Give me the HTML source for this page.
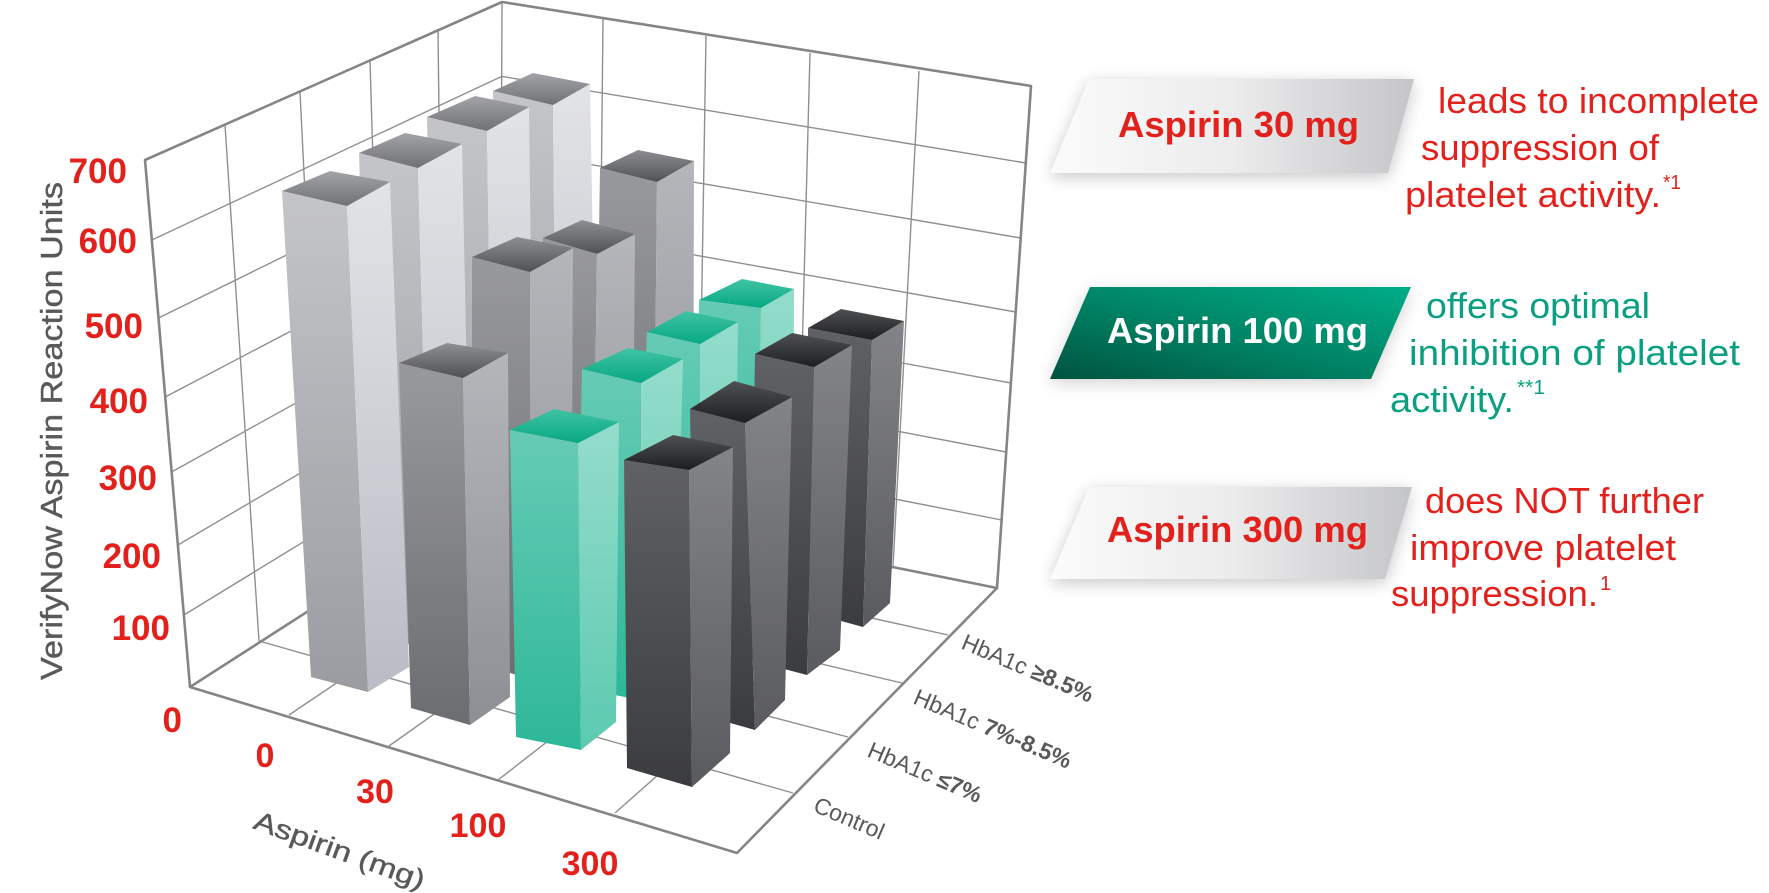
<!DOCTYPE html>
<html><head><meta charset="utf-8"><style>
html,body{margin:0;padding:0;background:#fff;}
svg{display:block;}
</style></head><body>
<svg width="1769" height="893" viewBox="0 0 1769 893" xmlns="http://www.w3.org/2000/svg" font-family="'Liberation Sans', sans-serif">
<defs>
<linearGradient id="lgF" x1="0" y1="0" x2="0" y2="1"><stop offset="0" stop-color="#c4c5c8"/><stop offset="1" stop-color="#9a9ca2"/></linearGradient>
<linearGradient id="lgS" x1="0" y1="0" x2="0" y2="1"><stop offset="0" stop-color="#e2e3e6"/><stop offset="1" stop-color="#b9bcc5"/></linearGradient>
<linearGradient id="lgT" x1="0" y1="0" x2="0" y2="1"><stop offset="0" stop-color="#a3a4a8"/><stop offset="1" stop-color="#707175"/></linearGradient>
<linearGradient id="gF" x1="0" y1="0" x2="0" y2="1"><stop offset="0" stop-color="#98999d"/><stop offset="1" stop-color="#6c6d71"/></linearGradient>
<linearGradient id="gS" x1="0" y1="0" x2="0" y2="1"><stop offset="0" stop-color="#b5b6ba"/><stop offset="1" stop-color="#8d8f95"/></linearGradient>
<linearGradient id="gT" x1="0" y1="0" x2="0" y2="1"><stop offset="0" stop-color="#8e8f92"/><stop offset="1" stop-color="#505154"/></linearGradient>
<linearGradient id="tF" x1="0" y1="0" x2="0" y2="1"><stop offset="0" stop-color="#66cbb5"/><stop offset="1" stop-color="#2eb898"/></linearGradient>
<linearGradient id="tS" x1="0" y1="0" x2="0" y2="1"><stop offset="0" stop-color="#94dccb"/><stop offset="1" stop-color="#5ccab0"/></linearGradient>
<linearGradient id="tT" x1="0" y1="0" x2="0" y2="1"><stop offset="0" stop-color="#40c3a5"/><stop offset="1" stop-color="#08a882"/></linearGradient>
<linearGradient id="dF" x1="0" y1="0" x2="0" y2="1"><stop offset="0" stop-color="#606164"/><stop offset="1" stop-color="#3b3c3f"/></linearGradient>
<linearGradient id="dS" x1="0" y1="0" x2="0" y2="1"><stop offset="0" stop-color="#838487"/><stop offset="1" stop-color="#5a5b5e"/></linearGradient>
<linearGradient id="dT" x1="0" y1="0" x2="0" y2="1"><stop offset="0" stop-color="#505153"/><stop offset="1" stop-color="#1d1e1f"/></linearGradient>
<linearGradient id="boxG" x1="0" y1="0" x2="1" y2="0"><stop offset="0" stop-color="#fbfbfb"/><stop offset="0.5" stop-color="#ececed"/><stop offset="1" stop-color="#c4c5c8"/></linearGradient>
<linearGradient id="boxT" x1="0" y1="1" x2="1" y2="0"><stop offset="0" stop-color="#00533f"/><stop offset="0.55" stop-color="#008a6a"/><stop offset="1" stop-color="#00ad88"/></linearGradient>
<filter id="sh" x="-20%" y="-40%" width="140%" height="180%"><feGaussianBlur stdDeviation="8"/></filter>
</defs>

<g stroke="#8f8f8f" stroke-width="1.4" fill="none">
 <line x1="151.8" y1="240" x2="501.8" y2="76.4"/>
 <line x1="158.5" y1="318" x2="501.5" y2="149.3"/>
 <line x1="165.2" y1="397" x2="501.2" y2="220.7"/>
 <line x1="171.6" y1="472" x2="500.9" y2="289.2"/>
 <line x1="177.9" y1="545" x2="500.6" y2="355.3"/>
 <line x1="183.9" y1="615" x2="500.3" y2="421.4"/>
 <line x1="225" y1="125" x2="259" y2="641"/>
 <line x1="300" y1="92" x2="325" y2="600"/>
 <line x1="370" y1="61" x2="385" y2="561"/>
 <line x1="438" y1="31" x2="444" y2="523"/>
 <line x1="502" y1="2" x2="500" y2="488"/>
 <line x1="501.8" y1="76.4" x2="1025.8" y2="163"/>
 <line x1="501.5" y1="149.3" x2="1020.7" y2="238"/>
 <line x1="501.2" y1="220.7" x2="1015.7" y2="312"/>
 <line x1="500.9" y1="289.2" x2="1010.9" y2="383"/>
 <line x1="500.6" y1="355.3" x2="1006.2" y2="452"/>
 <line x1="500.3" y1="421.4" x2="1001.6" y2="520"/>
 <line x1="603" y1="19" x2="598" y2="507"/>
 <line x1="706" y1="36" x2="698" y2="527"/>
 <line x1="810" y1="53" x2="797" y2="547"/>
 <line x1="919" y1="71" x2="893" y2="567"/>
 <line x1="289" y1="715" x2="598" y2="507"/>
 <line x1="389" y1="746" x2="698" y2="527"/>
 <line x1="498" y1="780" x2="797" y2="547"/>
 <line x1="615" y1="813" x2="893" y2="567"/>
 <line x1="259" y1="641" x2="793" y2="793"/>
 <line x1="325" y1="600" x2="848" y2="737"/>
 <line x1="385" y1="561" x2="902" y2="683"/>
 <line x1="444" y1="523" x2="948" y2="635"/>
</g>
<g stroke="#858585" stroke-width="2.6" fill="none" stroke-linejoin="round">
 <polyline points="190,687 145,160 502,2 1031,86 997,588"/>
 <polygon points="190,687 737,853 997,588 500,488"/>
</g>

<g stroke="none">
 <polygon fill="url(#lgF)" points="493,91 553,105 557,566 500,551"/><polygon fill="url(#lgS)" points="553,105 590,84 598,541 557,566"/><polygon fill="url(#lgT)" points="493,91 533,73 590,84 553,105"/>
 <polygon fill="url(#lgF)" points="427,117 487,131 494,608 437,593"/><polygon fill="url(#lgS)" points="487,131 529,107 535,583 494,608"/><polygon fill="url(#lgT)" points="427,117 475,96 529,107 487,131"/>
 <polygon fill="url(#gF)" points="600,168 657,182 653,587 594,570"/><polygon fill="url(#gS)" points="657,182 694,161 693,559 653,587"/><polygon fill="url(#gT)" points="600,168 638,150 694,161 657,182"/>
 <polygon fill="url(#lgF)" points="359,153 418,168 431,650 374,635"/><polygon fill="url(#lgS)" points="418,168 462,144 472,625 431,650"/><polygon fill="url(#lgT)" points="359,153 405,133 462,144 418,168"/>
 <polygon fill="url(#gF)" points="543,238 597,254 592,633 533,616"/><polygon fill="url(#gS)" points="597,254 635,234 632,605 592,633"/><polygon fill="url(#gT)" points="543,238 582,220 635,234 597,254"/>
 <polygon fill="url(#tF)" points="699,300 761,308 758,600 693,587"/><polygon fill="url(#tS)" points="761,308 794,289 793,572 758,600"/><polygon fill="url(#tT)" points="699,300 742,279 794,289 761,308"/>
 <polygon fill="url(#lgF)" points="282,191 347,206 368,692 311,677"/><polygon fill="url(#lgS)" points="347,206 390,182 409,667 368,692"/><polygon fill="url(#lgT)" points="282,191 330,171 390,182 347,206"/>
 <polygon fill="url(#gF)" points="472,257 530,272 531,679 472,662"/><polygon fill="url(#gS)" points="530,272 573,248 571,651 531,679"/><polygon fill="url(#gT)" points="472,257 517,237 573,248 530,272"/>
 <polygon fill="url(#tF)" points="647,332 700,344 699,650 634,637"/><polygon fill="url(#tS)" points="700,344 738,322 734,622 699,650"/><polygon fill="url(#tT)" points="647,332 686,311 738,322 700,344"/>
 <polygon fill="url(#dF)" points="808,328 872,340 863,627 808,612"/><polygon fill="url(#dS)" points="872,340 904,321 890,603 863,627"/><polygon fill="url(#dT)" points="808,328 841,309 904,321 872,340"/>
 <polygon fill="url(#gF)" points="399,363 463,378 470,725 411,708"/><polygon fill="url(#gS)" points="463,378 508,353 510,697 470,725"/><polygon fill="url(#gT)" points="399,363 447,343 508,353 463,378"/>
 <polygon fill="url(#tF)" points="582,369 641,383 640,700 575,687"/><polygon fill="url(#tS)" points="641,383 683,359 675,672 640,700"/><polygon fill="url(#tT)" points="582,369 628,348 683,359 641,383"/>
 <polygon fill="url(#dF)" points="755,354 814,367 807,675 750,660"/><polygon fill="url(#dS)" points="814,367 852,345 840,650 807,675"/><polygon fill="url(#dT)" points="755,354 792,333 852,345 814,367"/>
 <polygon fill="url(#tF)" points="510,430 578,443 581,750 516,737"/><polygon fill="url(#tS)" points="578,443 619,422 616,722 581,750"/><polygon fill="url(#tT)" points="510,430 554,409 619,422 578,443"/>
 <polygon fill="url(#dF)" points="690,409 745,423 755,730 695,713"/><polygon fill="url(#dS)" points="745,423 792,397 785,700 755,730"/><polygon fill="url(#dT)" points="690,409 734,381 792,397 745,423"/>
 <polygon fill="url(#dF)" points="624,460 689,470 692,787 627,768"/><polygon fill="url(#dS)" points="689,470 733,447 730,753 692,787"/><polygon fill="url(#dT)" points="624,460 673,435 733,447 689,470"/>
</g>

<g fill="#e3211c" font-weight="bold" font-size="35" text-anchor="end">
 <text x="127" y="183">700</text>
 <text x="137" y="253">600</text>
 <text x="143" y="338">500</text>
 <text x="148" y="413">400</text>
 <text x="157" y="490">300</text>
 <text x="161" y="568">200</text>
 <text x="170" y="640">100</text>
 <text x="182" y="732">0</text>
</g>
<g fill="#e3211c" font-weight="bold" font-size="34" text-anchor="middle">
 <text x="265" y="767">0</text>
 <text x="375" y="803">30</text>
 <text x="478" y="837">100</text>
 <text x="590" y="875">300</text>
</g>
<text transform="translate(62,431) rotate(-90)" text-anchor="middle" font-size="31" fill="#58595b" stroke="#58595b" stroke-width="0.4" textLength="498" lengthAdjust="spacingAndGlyphs">VerifyNow Aspirin Reaction Units</text>
<text transform="translate(252,828) rotate(20)" font-size="27" fill="#58595b" stroke="#58595b" stroke-width="0.4" textLength="180" lengthAdjust="spacingAndGlyphs">Aspirin (mg)</text>
<g fill="#58595b" font-size="23">
 <text transform="translate(960,648) rotate(23)">HbA1c <tspan font-weight="bold">≥8.5%</tspan></text>
 <text transform="translate(912,703) rotate(23)">HbA1c <tspan font-weight="bold">7%-8.5%</tspan></text>
 <text transform="translate(866,756) rotate(23)">HbA1c <tspan font-weight="bold">≤7%</tspan></text>
 <text transform="translate(812,811) rotate(23)">Control</text>
</g>

<polygon points="1089,79 1414,79 1388,173 1050,173" fill="#9a9a9a" opacity="0.55" filter="url(#sh)" transform="translate(0,4)"/>
<polygon points="1089,79 1414,79 1388,173 1050,173" fill="url(#boxG)"/>
<polygon points="1090,287 1411,287 1371,379 1050,379" fill="#9a9a9a" opacity="0.45" filter="url(#sh)" transform="translate(0,4)"/>
<polygon points="1090,287 1411,287 1371,379 1050,379" fill="url(#boxT)"/>
<polygon points="1089,487 1412,487 1385,579 1050,579" fill="#9a9a9a" opacity="0.55" filter="url(#sh)" transform="translate(0,4)"/>
<polygon points="1089,487 1412,487 1385,579 1050,579" fill="url(#boxG)"/>

<g font-weight="bold" font-size="36">
 <text x="1118" y="137" fill="#e3211c" textLength="241" lengthAdjust="spacingAndGlyphs">Aspirin 30 mg</text>
 <text x="1107" y="343" fill="#ffffff" textLength="261" lengthAdjust="spacingAndGlyphs">Aspirin 100 mg</text>
 <text x="1107" y="542" fill="#e3211c" textLength="261" lengthAdjust="spacingAndGlyphs">Aspirin 300 mg</text>
</g>
<g font-size="36" fill="#e3211c">
 <text x="1438" y="113" textLength="321" lengthAdjust="spacingAndGlyphs">leads to incomplete</text>
 <text x="1421" y="160" textLength="238" lengthAdjust="spacingAndGlyphs">suppression of</text>
 <text x="1405" y="207" textLength="256" lengthAdjust="spacingAndGlyphs">platelet activity.</text>
 <text x="1663" y="189" font-size="20" textLength="18" lengthAdjust="spacingAndGlyphs">*1</text>
 <text x="1425" y="513" textLength="279" lengthAdjust="spacingAndGlyphs">does NOT further</text>
 <text x="1410" y="560" textLength="266" lengthAdjust="spacingAndGlyphs">improve platelet</text>
 <text x="1391" y="606" textLength="207" lengthAdjust="spacingAndGlyphs">suppression.</text>
 <text x="1600" y="590" font-size="20">1</text>
</g>
<g font-size="36" fill="#0b9f81">
 <text x="1426" y="318" textLength="224" lengthAdjust="spacingAndGlyphs">offers optimal</text>
 <text x="1409" y="365" textLength="331" lengthAdjust="spacingAndGlyphs">inhibition of platelet</text>
 <text x="1390" y="412" textLength="124" lengthAdjust="spacingAndGlyphs">activity.</text>
 <text x="1517" y="394" font-size="20" textLength="28" lengthAdjust="spacingAndGlyphs">**1</text>
</g>
</svg>
</body></html>
